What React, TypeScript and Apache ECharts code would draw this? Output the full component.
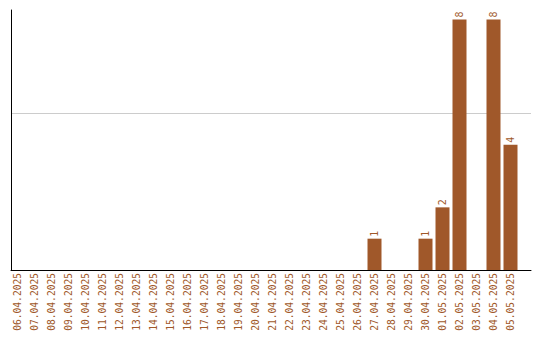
import React, { useEffect, useRef } from "react";
import * as echarts from "echarts";

// Daily counts, 06.04.2025 – 05.05.2025
const dates: string[] = [
  "06.04.2025", "07.04.2025", "08.04.2025", "09.04.2025", "10.04.2025",
  "11.04.2025", "12.04.2025", "13.04.2025", "14.04.2025", "15.04.2025",
  "16.04.2025", "17.04.2025", "18.04.2025", "19.04.2025", "20.04.2025",
  "21.04.2025", "22.04.2025", "23.04.2025", "24.04.2025", "25.04.2025",
  "26.04.2025", "27.04.2025", "28.04.2025", "29.04.2025", "30.04.2025",
  "01.05.2025", "02.05.2025", "03.05.2025", "04.05.2025", "05.05.2025",
];
const counts: number[] = [
  0, 0, 0, 0, 0, 0, 0, 0, 0, 0,
  0, 0, 0, 0, 0, 0, 0, 0, 0, 0,
  0, 1, 0, 0, 1, 2, 8, 0, 8, 4,
];
const yTicks: number[] = [0, 5];
const yMax = 8.3;

const BROWN = "#a0582a";
const MONO = "DejaVu Sans Mono";

export default function App() {
  const ref = useRef<HTMLDivElement>(null);

  useEffect(() => {
    if (!ref.current) return;
    const chart = echarts.init(ref.current, undefined, { renderer: "svg" });
    chart.setOption({
      animation: false,
      backgroundColor: "#ffffff",
      grid: [
        // bars and date labels
        { left: 9, right: 21, top: 10, bottom: 70 },
        // frame: axis lines and the gridline
        { left: 11, right: 9, top: 10, bottom: 70 },
      ],
      xAxis: [
        {
          type: "category",
          gridIndex: 0,
          data: dates,
          axisLine: { show: false },
          axisTick: { show: false },
          axisLabel: {
            interval: 0,
            rotate: 90,
            margin: 3,
            color: BROWN,
            fontFamily: MONO,
            fontSize: 9.6,
          },
        },
        {
          type: "value",
          gridIndex: 1,
          min: 0,
          max: 1,
          axisLine: { show: true, lineStyle: { color: "#000", width: 1 } },
          axisTick: { show: false },
          axisLabel: { show: false },
          splitLine: { show: false },
        },
      ],
      yAxis: [
        {
          type: "value",
          gridIndex: 0,
          min: yTicks[0],
          max: yMax,
          interval: yTicks[1] - yTicks[0],
          show: false,
          splitLine: { show: false },
        },
        {
          type: "value",
          gridIndex: 1,
          min: yTicks[0],
          max: yMax,
          interval: yTicks[1] - yTicks[0],
          axisLine: { show: true, lineStyle: { color: "#000", width: 1 } },
          axisTick: { show: false },
          axisLabel: { show: false },
          splitLine: {
            show: true,
            lineStyle: { color: ["transparent", "#cccccc", "transparent"], width: 1 },
          },
        },
      ],
      series: [
        {
          type: "bar",
          xAxisIndex: 0,
          yAxisIndex: 0,
          data: counts.map((v) => (v === 0 ? null : v)),
          barWidth: 14,
          itemStyle: { color: BROWN },
          label: {
            show: true,
            position: "top",
            rotate: 90,
            align: "left",
            verticalAlign: "middle",
            distance: 2,
            color: BROWN,
            fontFamily: MONO,
            fontSize: 10,
          },
        },
      ],
    });

    // rotated tick labels left of the y axis, positioned through the frame's scales
    const tickLabels = yTicks
      .filter((v) => v !== 0)
      .map((v) => {
        const pt = chart.convertToPixel({ xAxisIndex: 1, yAxisIndex: 1 }, [0, v]) as number[];
        const px = pt && isFinite(pt[0]) ? pt[0] : 11;
        const py = pt && isFinite(pt[1]) ? pt[1] : 113;
        return {
          type: "text",
          z: 100,
          x: px - 3,
          y: py + 2,
          rotation: Math.PI / 2,
          style: {
            text: String(v),
            fill: "#000",
            fontFamily: MONO,
            fontSize: 8,
            align: "center",
            verticalAlign: "bottom",
          },
        };
      });
    chart.setOption({ graphic: { elements: tickLabels } });

    return () => chart.dispose();
  }, []);

  return <div ref={ref} style={{ width: 540, height: 340, margin: -8 }} />;
}
